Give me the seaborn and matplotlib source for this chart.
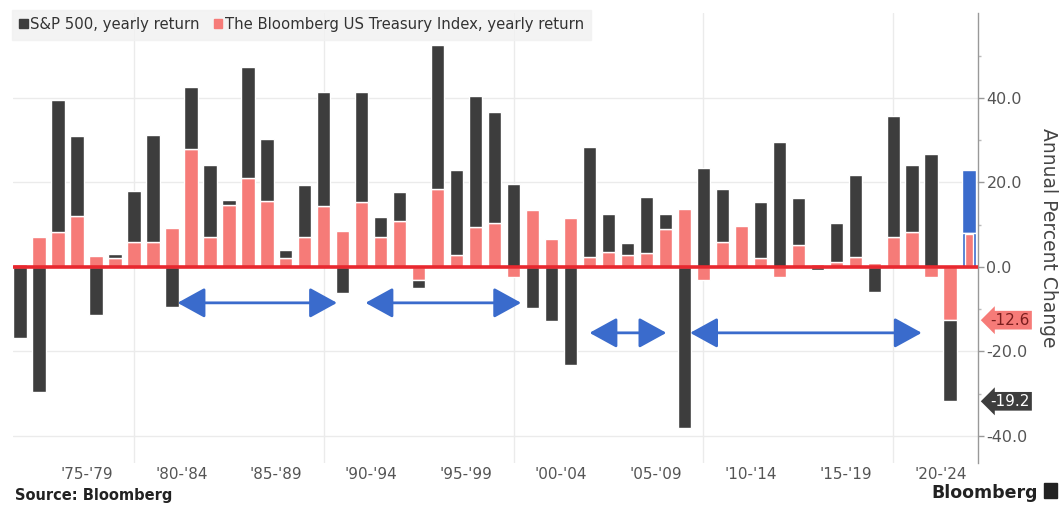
import numpy as np
import pandas as pd
import matplotlib.pyplot as plt
import seaborn as sns

# yearly returns (1973-2022)
years = list(range(1973, 2023))
treasury = [0.6, 7.0, 8.2, 12.1, 2.7, 2.1, 5.9, 5.9, 9.2, 28.0,
            7.1, 14.7, 21.1, 15.6, 2.1, 7.1, 14.5, 8.5, 15.4, 7.1,
            10.9, -3.0, 18.5, 2.8, 9.5, 10.4, -2.4, 13.5, 6.6, 11.6,
            2.4, 3.6, 2.8, 3.2, 9.0, 13.7, -3.1, 6.0, 9.8, 2.1,
            -2.5, 5.2, 0.8, 1.1, 2.3, 0.9, 7.1, 8.2, -2.4, -12.6]
sp500 = [-16.8, -29.7, 31.4, 18.9, -11.4, 0.9, 12.1, 25.4, -9.5, 14.6,
         17.1, 1.2, 26.1, 14.7, 1.9, 12.3, 27.0, -6.2, 26.1, 4.7,
         6.8, -2.1, 33.9, 20.2, 31.0, 26.3, 19.7, -9.8, -12.8, -23.2,
         26.0, 9.0, 2.9, 13.4, 3.5, -38.2, 23.4, 12.4, 0.0, 13.2,
         29.6, 11.1, -0.7, 9.4, 19.5, -5.9, 28.5, 16.0, 26.8, -19.2]

# highlighted current-year bar at the right edge
ytd_year = 2023
ytd_treasury = 8.0
ytd_sp500 = 15.0

period_labels = ["'75-'79", "'80-'84", "'85-'89", "'90-'94", "'95-'99",
                 "'00-'04", "'05-'09", "'10-'14", "'15-'19", "'20-'24"]

# double arrows drawn on the chart: (start year, end year, level)
arrow_spans = [(1981.3, 1989.7, -8.5), (1991.2, 1999.4, -8.5),
               (2003.0, 2007.05, -15.6), (2008.3, 2020.5, -15.6)]

DARK = "#3d3d3d"
PINK = "#f67b78"
RED = "#e8282f"
BLUE = "#3a6bcc"
GREY_TXT = "#555555"

df = pd.DataFrame({"year": years, "treasury": treasury, "sp500": sp500})
# stacked: S&P sits on top of treasury when both have the same sign
same_sign = np.sign(df["treasury"]) == np.sign(df["sp500"])
df["sp_bottom"] = np.where(same_sign, df["treasury"], 0.0)

sns.set_theme(style="white")
plt.rcParams["font.family"] = ["DejaVu Sans"]
plt.rcParams["axes.unicode_minus"] = False

fig = plt.figure(figsize=(10.62, 5.12), dpi=100)
ax = fig.add_axes([0.0122, 0.0957, 0.9088, 0.879])

sns.barplot(data=df, x="year", y="treasury", native_scale=True, width=0.71,
            color=PINK, saturation=1, errorbar=None, ax=ax, zorder=2)
sns.barplot(data=df, x="year", y="sp500", native_scale=True, width=0.71,
            color=DARK, saturation=1, errorbar=None, ax=ax, zorder=2,
            bottom=df["sp_bottom"].to_numpy())

# highlighted bar
ax.bar(ytd_year, ytd_sp500, bottom=ytd_treasury, width=0.71, color=BLUE, zorder=2)
ax.bar(ytd_year, ytd_treasury, width=0.71, color=BLUE, zorder=2)
ax.bar(ytd_year, ytd_treasury - 0.6, bottom=0.3, width=0.42, color=PINK, zorder=3)

ax.axhline(0, color=RED, lw=2.6, zorder=4)

ax.set_xlim(1972.63, 2023.47)
ax.set_ylim(-46.4, 60.1)

# grid
for v in [-40, -20, 20, 40]:
    ax.axhline(v, color="#ebebeb", lw=1, zorder=0)
for yr in [1979, 1989, 1999, 2009, 2019]:
    ax.axvline(yr, color="#ebebeb", lw=1, zorder=0)

# x ticks
ax.set_xticks([1976.5 + 5 * i for i in range(len(period_labels))])
ax.set_xticklabels(period_labels)
ax.tick_params(axis="x", length=0, pad=3, labelsize=11, labelcolor=GREY_TXT)

# right y axis
ax.yaxis.tick_right()
ax.yaxis.set_label_position("right")
ax.set_yticks([-40, -20, 0, 20, 40])
ax.set_yticklabels([f"{v:.1f}" for v in [-40, -20, 0, 20, 40]])
ax.set_yticks([-30, -10, 10, 30, 50], minor=True)
ax.tick_params(axis="y", which="major", direction="out", length=4, width=1,
               color="#999999", pad=2, labelsize=11.5, labelcolor=GREY_TXT)
ax.tick_params(axis="y", which="minor", direction="out", length=2, width=1,
               color="#bbbbbb", right=True, left=False)
ax.set_ylabel("Annual Percent Change", rotation=270, labelpad=22,
              fontsize=13.5, color="#444444")
ax.set_xlabel("")
for side in ["top", "left", "bottom"]:
    ax.spines[side].set_visible(False)
ax.spines["right"].set_color("#999999")
ax.spines["right"].set_linewidth(1)

# arrows
for x0, x1, lvl in arrow_spans:
    ax.annotate("", xy=(x1, lvl), xytext=(x0, lvl), zorder=5,
                arrowprops=dict(arrowstyle="<|-|>,head_length=1.0,head_width=0.55",
                                color=BLUE, lw=2, shrinkA=0, shrinkB=0,
                                mutation_scale=17))

# value tags on the right axis for the last year
last_t = treasury[-1]
last_s = sp500[-1]
ax.text(1.013, last_t, f"{last_t:.1f}", transform=ax.get_yaxis_transform(),
        ha="left", va="center", fontsize=11, color="#7a1d1d", zorder=6,
        bbox=dict(boxstyle="larrow,pad=0.12", fc=PINK, ec="none"), clip_on=False)
ax.text(1.013, last_t + last_s, f"{last_s:.1f}", transform=ax.get_yaxis_transform(),
        ha="left", va="center", fontsize=11, color="white", zorder=6,
        bbox=dict(boxstyle="larrow,pad=0.12", fc=DARK, ec="none"), clip_on=False)

# legend
handles = [plt.Rectangle((0, 0), 1, 1, color=DARK),
           plt.Rectangle((0, 0), 1, 1, color=PINK)]
leg = ax.legend(handles, ["S&P 500, yearly return",
                          "The Bloomberg US Treasury Index, yearly return"],
                loc="upper left", bbox_to_anchor=(-0.001, 1.007), ncol=2,
                fontsize=10.7, frameon=True, fancybox=False,
                handlelength=0.55, handleheight=0.55, handletextpad=0.15,
                columnspacing=1.0, borderpad=0.5, borderaxespad=0)
leg.get_frame().set_facecolor("#f1f1f1")
leg.get_frame().set_edgecolor("#f1f1f1")
leg.set_zorder(1)
for t in leg.get_texts():
    t.set_color("#333333")

fig.text(0.014, 0.018, "Source: Bloomberg", fontsize=10.5, fontweight="bold",
         color="#222222", ha="left", va="bottom")
fig.text(0.977, 0.02, "Bloomberg", fontsize=12.5, fontweight="bold",
         color="#222222", ha="right", va="bottom")
fig.patches.append(plt.Rectangle((0.983, 0.028), 0.012, 0.028, color="#222222",
                                 transform=fig.transFigure, figure=fig))

fig.savefig("out.png", dpi=100)
